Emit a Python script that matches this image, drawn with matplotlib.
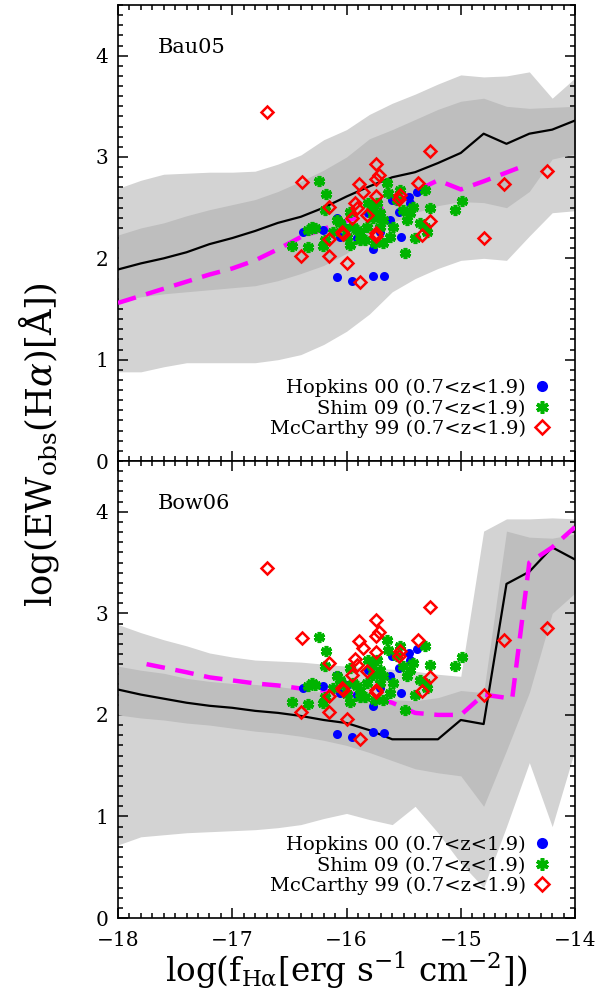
"""
EW_obs(Halpha) vs Halpha flux for the Bau05 and Bow06 models, with observational samples.
"""

import matplotlib
matplotlib.use('Agg')
import matplotlib.pyplot as plt
from matplotlib.ticker import MultipleLocator
import numpy as np

# ── Model grids (log flux bins) ───────────────────────────────
xbin = np.round(np.arange(-18.0, -13.99, 0.2), 2)

# Bau05
bau_med = [1.89, 1.95, 2.00, 2.06, 2.14, 2.20, 2.27, 2.35, 2.41, 2.50, 2.61,
           2.71, 2.80, 2.85, 2.94, 3.04, 3.23, 3.13, 3.23, 3.27, 3.36]
bau_lo90 = [0.88, 0.88, 0.93, 0.97, 0.97, 0.97, 0.97, 1.00, 1.05, 1.15, 1.28,
            1.45, 1.67, 1.80, 1.90, 1.98, 2.00, 1.98, 2.22, 2.45, 2.47]
bau_hi90 = [2.69, 2.77, 2.83, 2.84, 2.85, 2.85, 2.86, 2.93, 3.02, 3.17, 3.27,
            3.42, 3.53, 3.62, 3.72, 3.81, 3.79, 3.80, 3.84, 3.58, 3.78]
bau_lo50 = [1.58, 1.62, 1.65, 1.67, 1.69, 1.71, 1.73, 1.78, 1.85, 1.93, 2.05,
            2.22, 2.35, 2.45, 2.52, 2.56, 2.55, 2.50, 2.66, 2.98, 3.03]
bau_hi50 = [2.23, 2.30, 2.35, 2.42, 2.48, 2.53, 2.58, 2.66, 2.76, 2.87, 3.00,
            3.18, 3.27, 3.37, 3.47, 3.55, 3.58, 3.50, 3.48, 3.49, 3.50]
bau_dx = [-18.0, -17.8, -17.6, -17.4, -17.2, -17.0, -16.8, -16.6, -16.4, -16.2,
          -16.0, -15.8, -15.6, -15.4, -15.2, -15.0, -14.8, -14.5]
bau_dy = [1.56, 1.63, 1.70, 1.77, 1.84, 1.90, 1.98, 2.09, 2.21, 2.29,
          2.37, 2.44, 2.53, 2.66, 2.77, 2.68, 2.76, 2.89]

# Bow06
bow_med = [2.25, 2.20, 2.16, 2.12, 2.09, 2.07, 2.04, 2.02, 1.99, 1.95, 1.92,
           1.85, 1.76, 1.76, 1.76, 1.95, 1.91, 3.29, 3.41, 3.65, 3.53]
bow_lo90 = [0.72, 0.80, 0.82, 0.84, 0.85, 0.86, 0.87, 0.89, 0.92, 0.98, 1.03,
            0.97, 0.92, 1.10, 0.84, 0.54, 0.30, 0.90, 1.53, 0.90, 1.66]
bow_hi90 = [2.89, 2.81, 2.74, 2.68, 2.61, 2.57, 2.54, 2.53, 2.52, 2.50, 2.48,
            2.46, 2.45, 2.43, 2.40, 2.38, 3.81, 3.93, 3.93, 3.94, 3.93]
bow_lo50 = [2.00, 1.97, 1.95, 1.92, 1.90, 1.87, 1.84, 1.82, 1.79, 1.75, 1.70,
            1.63, 1.55, 1.47, 1.43, 1.40, 1.10, 1.65, 2.22, 3.00, 3.20]
bow_hi50 = [2.48, 2.44, 2.41, 2.36, 2.33, 2.31, 2.30, 2.28, 2.25, 2.22, 2.19,
            2.17, 2.15, 2.14, 2.17, 2.24, 2.22, 3.81, 3.75, 3.74, 3.78]
bow_dx = [-17.75, -17.4, -17.2, -17.0, -16.8, -16.6, -16.4, -16.2, -16.0, -15.8,
          -15.6, -15.4, -15.2, -15.0, -14.8, -14.55, -14.4, -14.2, -14.0]
bow_dy = [2.50, 2.42, 2.37, 2.34, 2.31, 2.29, 2.26, 2.24, 2.22, 2.18,
          2.12, 2.02, 2.00, 2.00, 2.20, 2.16, 3.50, 3.65, 3.85]

# ── Observations ──────────────────────────────────────────────
hop_x = [-16.080, -15.955, -15.765, -15.669, -16.378, -16.086, -15.771, -15.526,
         -15.386, -15.619, -15.537, -15.450, -15.444, -16.203, -15.998, -15.809,
         -15.707, -15.605, -16.057, -15.911]
hop_y = [1.813, 1.780, 1.829, 1.826, 2.264, 2.395, 2.089, 2.214,
         2.652, 2.379, 2.461, 2.609, 2.543, 2.280, 2.296, 2.444,
         2.264, 2.576, 2.214, 2.198]

shim_x = [-16.241, -16.182, -16.188, -16.305, -16.334, -16.276, -16.480, -16.334,
          -16.203, -16.188, -16.115, -15.969, -15.993, -15.940, -15.911, -15.882,
          -15.838, -15.823, -15.780, -15.765, -15.736, -15.707, -15.707, -15.677,
          -15.648, -15.634, -15.561, -15.532, -15.502, -15.488, -15.473, -15.444,
          -15.415, -15.400, -15.357, -15.313, -15.313, -15.269, -15.298, -15.050,
          -14.992, -15.677, -15.619, -15.590, -15.809, -15.750, -15.882, -15.969,
          -16.057, -16.086, -16.022]
shim_y = [2.764, 2.632, 2.477, 2.313, 2.280, 2.296, 2.125, 2.109,
          2.122, 2.181, 2.264, 2.132, 2.208, 2.313, 2.280, 2.247,
          2.181, 2.313, 2.477, 2.395, 2.543, 2.444, 2.313, 2.148,
          2.741, 2.642, 2.576, 2.675, 2.477, 2.050, 2.379, 2.444,
          2.510, 2.198, 2.346, 2.313, 2.675, 2.494, 2.264, 2.477,
          2.570, 2.379, 2.214, 2.313, 2.543, 2.148, 2.181, 2.461,
          2.346, 2.379, 2.296]

mcc_x = [-16.392, -16.153, -16.398, -16.153, -15.998, -15.882, -16.042, -15.949,
         -15.923, -15.911, -15.888, -15.853, -15.745, -15.742, -15.713, -15.742,
         -15.742, -15.742, -15.532, -15.538, -15.372, -15.269, -15.336, -15.824,
         -16.153, -16.033, -16.693, -15.269, -14.619, -14.794, -14.248]
mcc_y = [2.757, 2.511, 2.027, 2.027, 1.958, 1.767, 2.264, 2.396,
         2.550, 2.494, 2.731, 2.659, 2.932, 2.781, 2.820, 2.616,
         2.248, 2.221, 2.626, 2.583, 2.741, 2.372, 2.231, 2.428,
         2.191, 2.241, 3.442, 3.060, 2.734, 2.201, 2.860]

LEG = "(0.7<z<1.9)"
LIGHT = '#d3d3d3'
DARK = '#bebebe'

# ── Figure ────────────────────────────────────────────────────
plt.rcParams.update({
    'font.family': 'DejaVu Serif',
    'mathtext.fontset': 'dejavuserif',
    'font.size': 14,
    'axes.linewidth': 1.2,
})

fig = plt.figure(figsize=(5.99, 9.97), dpi=100)
ax_top = fig.add_axes([0.197, 0.5376, 0.763, 0.4574])
ax_bot = fig.add_axes([0.197, 0.0792, 0.763, 0.4584])

panels = [
    (ax_top, "Bau05", bau_med, bau_lo90, bau_hi90, bau_lo50, bau_hi50, bau_dx, bau_dy),
    (ax_bot, "Bow06", bow_med, bow_lo90, bow_hi90, bow_lo50, bow_hi50, bow_dx, bow_dy),
]

for ax, name, med, lo90, hi90, lo50, hi50, dx, dy in panels:
    ax.fill_between(xbin, lo90, hi90, color=LIGHT, lw=0, zorder=1)
    ax.fill_between(xbin, lo50, hi50, color=DARK, lw=0, zorder=2)
    ax.plot(xbin, med, color='black', lw=1.6, zorder=3)
    ax.plot(dx, dy, color='magenta', lw=3.2, dashes=(4.2, 2.4), zorder=4)

    ax.plot(hop_x, hop_y, 'o', color='blue', ms=6.5, mec='none', zorder=5,
            label=f"Hopkins 00 {LEG}")
    ax.plot(shim_x, shim_y, ls='none', marker=(6, 2, 0), color='#00b400',
            ms=8, mew=2.6, zorder=6, label=f"Shim 09 {LEG}")
    ax.plot(mcc_x, mcc_y, 'D', mfc='none', mec='red', ms=6.5, mew=1.8,
            zorder=7, label=f"McCarthy 99 {LEG}")

    ax.text(-17.65, 4.08, name, fontsize=15, ha='left', va='center')

    ax.set_xlim(-18, -14)
    ax.set_ylim(0, 4.5)
    ax.xaxis.set_major_locator(MultipleLocator(1))
    ax.xaxis.set_minor_locator(MultipleLocator(0.1))
    ax.yaxis.set_major_locator(MultipleLocator(1))
    ax.yaxis.set_minor_locator(MultipleLocator(0.1))
    ax.tick_params(which='both', direction='in', top=True, right=True, width=1.1)
    ax.tick_params(which='major', length=7, labelsize=14.5)
    ax.tick_params(which='minor', length=3.5)
    ax.tick_params(axis='x', pad=9)
    ax.tick_params(axis='y', pad=7)

    leg = ax.legend(loc='lower right', bbox_to_anchor=(0.945, 0.05), frameon=False,
                    markerfirst=False, handlelength=0.8, handletextpad=0.45,
                    labelspacing=0.12, borderpad=0, borderaxespad=0, fontsize=14)
    leg.legend_handles[0].set_markersize(8)
    leg.legend_handles[1].set_markersize(9)
    leg.legend_handles[2].set_markersize(7.5)

ax_top.tick_params(labelbottom=False)
ax_bot.set_xlabel(r"log(f$_{\rm H\alpha}$[erg s$^{-1}$ cm$^{-2}$])", fontsize=23.5,
                  labelpad=0)
fig.text(0.065, 1 - 445 / 997, r"log(EW$_{\rm obs}$(H$\alpha$)[Å])", rotation=90,
         fontsize=25.5, ha='center', va='center')

plt.savefig('out.png', dpi=100, facecolor='white')
plt.close()
